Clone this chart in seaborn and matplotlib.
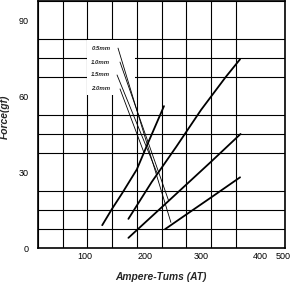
import numpy as np
import pandas as pd
import matplotlib
matplotlib.use("Agg")
import matplotlib.pyplot as plt
from matplotlib.patches import Rectangle
import seaborn as sns

# ---- data ----
gaps = ["0.5mm", "1.0mm", "1.5mm", "2.0mm"]
at_05 = [257, 300, 350, 409]
force_05 = [7.4, 13.2, 19.9, 27.9]
at_10 = [183, 250, 300, 350, 410]
force_10 = [4.0, 16.0, 25.0, 34.0, 45.0]
at_15 = [183, 230, 280, 330, 380, 409]
force_15 = [11.5, 26.0, 40.0, 54.5, 67.5, 74.5]
at_20 = [130, 150, 170, 200, 225, 255]
force_20 = [9.0, 15.5, 21.5, 31.0, 42.5, 56.0]

# leader lines: label anchor -> point on its curve
leader_at_start = [162, 166, 160, 166]
leader_f_start = [78.9, 73.4, 68.3, 62.8]
leader_at_end = [269, 264, 241, 214]
leader_f_end = [10.1, 18.9, 29.6, 37.9]

x_tick_labels = ["100", "200", "300", "400", "500"]
y_ticks = [0, 30, 60, 90]

curves = pd.concat([
    pd.DataFrame({"AT": at_05, "Force": force_05, "gap": gaps[0]}),
    pd.DataFrame({"AT": at_10, "Force": force_10, "gap": gaps[1]}),
    pd.DataFrame({"AT": at_15, "Force": force_15, "gap": gaps[2]}),
    pd.DataFrame({"AT": at_20, "Force": force_20, "gap": gaps[3]}),
], ignore_index=True)

leaders = pd.DataFrame({
    "AT": [v for pair in zip(leader_at_start, leader_at_end) for v in pair],
    "Force": [v for pair in zip(leader_f_start, leader_f_end) for v in pair],
    "gap": [g for g in gaps for _ in range(2)],
})

sns.set_theme(style="white")
plt.rcParams["font.family"] = ["Liberation Sans", "DejaVu Sans"]

fig = plt.figure(figsize=(2.94, 2.87), dpi=100)
ax = fig.add_axes([38 / 294, 1 - 248 / 287, 247 / 294, 247 / 287])

ax.set_xlim(0, 500)
ax.set_ylim(0, 97.5)

# grid
ax.set_xticks(np.arange(0, 501, 50), minor=True)
ax.set_yticks(np.arange(0, 97.6, 7.5), minor=True)
ax.grid(which="minor", axis="both", color="black", linewidth=0.8)
ax.grid(which="major", axis="x", visible=False)
ax.set_axisbelow(True)

# white box behind the labels
ax.add_patch(Rectangle((100, 60.5), 96, 21.5, facecolor="white",
                       edgecolor="none", zorder=1.5))

sns.lineplot(data=curves, x="AT", y="Force", hue="gap",
             palette=["black"] * 4, legend=False, sort=False,
             estimator=None, linewidth=1.3, ax=ax, zorder=3)
sns.lineplot(data=leaders, x="AT", y="Force", hue="gap",
             palette=["black"] * 4, legend=False, sort=False,
             estimator=None, linewidth=0.6, ax=ax, zorder=3)

for g, xs, ys in zip(gaps, leader_at_start, leader_f_start):
    ax.text(108, ys, g, fontsize=4.3, fontweight="bold", fontstyle="italic",
            ha="left", va="center", zorder=4)

ax.set_xticks([94, 216, 330, 450, 496])
ax.set_xticklabels(x_tick_labels)
ax.set_yticks(y_ticks)
ax.set_yticklabels([str(v) for v in y_ticks])
ax.tick_params(axis="both", which="both", length=0, labelsize=6.5,
               colors="black")
ax.tick_params(axis="x", pad=3)
ax.tick_params(axis="y", pad=6.5)

for s in ax.spines.values():
    s.set_visible(True)
    s.set_color("black")
    s.set_linewidth(1.2)

ax.set_xlabel("Ampere-Tums (AT)", fontsize=7.4, fontweight="bold",
              fontstyle="italic")
ax.set_ylabel("Force(gf)", fontsize=7.4, fontweight="bold",
              fontstyle="italic")
ax.xaxis.set_label_coords(0.498, -0.097)
ax.yaxis.set_label_coords(-0.113, 0.53)

fig.savefig("out.png", dpi=100)
